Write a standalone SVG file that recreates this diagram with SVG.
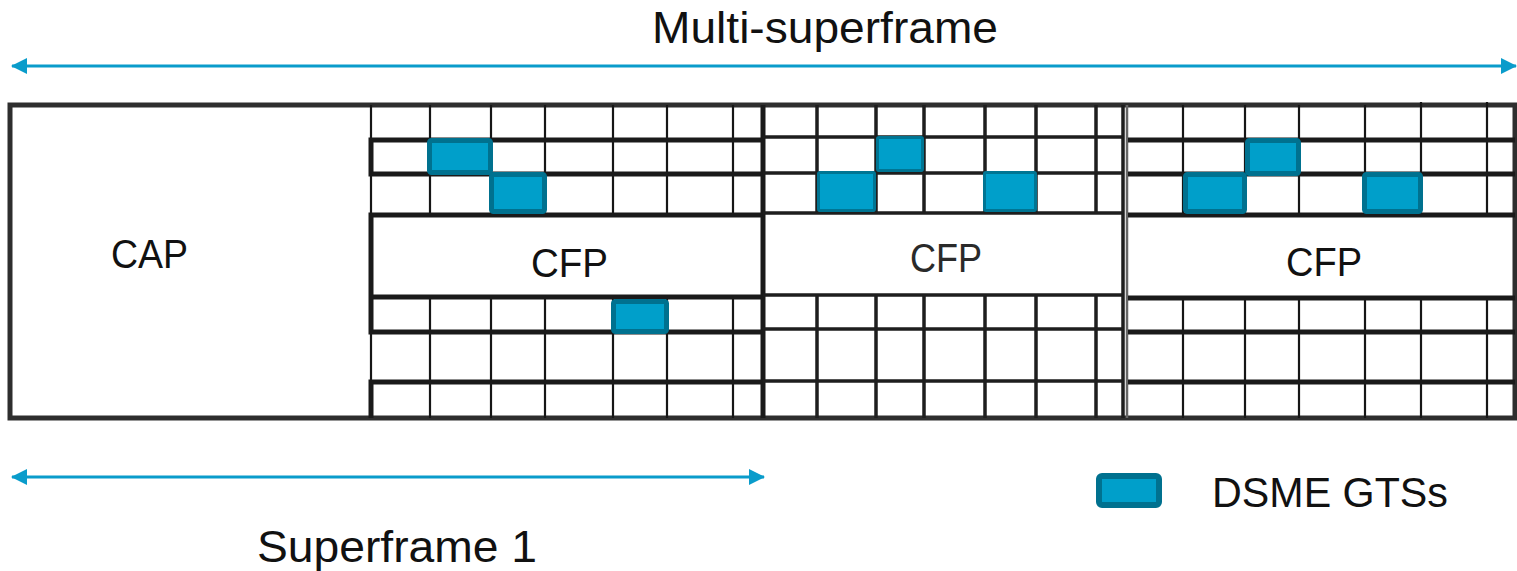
<svg xmlns="http://www.w3.org/2000/svg" width="1517" height="571" viewBox="0 0 1517 571">
  <defs>
    <style>
      .lbl { font-family: "Liberation Sans", Arial, sans-serif; fill: #111; }
      .thin { stroke: #161616; stroke-width: 2.2; fill: none; }
      .thick { stroke: #1a1a1a; stroke-width: 5; fill: none; }
      .mid { stroke: #1e1e1e; stroke-width: 3.5; fill: none; }
      .frame { stroke: #2e2e2e; stroke-width: 5; fill: #fff; }
      .gts { fill: #009fca; stroke: #00718f; stroke-width: 5; }
      .gts2 { fill: #009fca; stroke: #007593; stroke-width: 3; }
      .arrow { stroke: #0a9ccb; stroke-width: 3; fill: none; }
    </style>
    <marker id="ah" viewBox="0 0 16 16" refX="15" refY="8" markerWidth="16" markerHeight="16" markerUnits="userSpaceOnUse" orient="auto-start-reverse">
      <path d="M0,0 L16,8 L0,16 Z" fill="#0a9ccb"/>
    </marker>
  </defs>

  <!-- outer frame -->
  <rect id="frame" class="frame" x="10" y="105" width="1505" height="313"/>

  <!-- CAP region -->
  <g id="cap">
    <line class="thin" x1="371" y1="105" x2="371" y2="418"/>
    <text class="lbl" x="111" y="268" font-size="40" textLength="77" lengthAdjust="spacingAndGlyphs">CAP</text>
  </g>

  <!-- superframe 1 slot grid -->
  <g id="sf1-grid">
    <path class="thin" d="M430,105V215M491,105V215M545,105V215M613,105V215M667,105V215M733,105V215
                          M430,297V418M491,297V418M545,297V418M613,297V418M667,297V418M733,297V418"/>
    <path class="thick" d="M371,140H763M371,174H763M371,215H763M371,297H763M371,332H763M371,382H763
                           M371,137.5V176.5M371,212.5V334.5M371,379.5V418"/>
    <line class="thick" x1="763" y1="105" x2="763" y2="418"/>
  </g>
  <g id="sf1-cfp">
    <text class="lbl" x="531" y="277" font-size="41" textLength="77" lengthAdjust="spacingAndGlyphs">CFP</text>
  </g>
  <g id="sf1-gts">
    <rect class="gts" x="429.5" y="140.5" width="61" height="32" rx="2"/>
    <rect class="gts" x="491.5" y="174.5" width="53" height="37" rx="2"/>
    <rect class="gts" x="613.5" y="301.5" width="53" height="30" rx="2"/>
  </g>

  <!-- superframe 2 slot grid -->
  <g id="sf2-grid">
    <path class="mid" d="M817,105V213M876,105V213M924,105V213M985,105V213M1036,105V213M1096,105V213
                         M817,295V418M876,295V418M924,295V418M985,295V418M1036,295V418M1096,295V418" stroke-width="3"/>
    <path class="mid" d="M763,137H1123M763,173H1123M763,213H1123M763,295H1123M763,329H1123M763,381H1123"/>
    <line class="mid" x1="1123" y1="105" x2="1123" y2="418" stroke-width="4.5"/>
  </g>
  <g id="sf2-cfp">
    <text class="lbl" x="910" y="272" font-size="40" textLength="72" lengthAdjust="spacingAndGlyphs" style="fill:#2a2a2a">CFP</text>
  </g>
  <g id="sf2-gts">
    <rect class="gts2" x="877.5" y="137.5" width="45" height="33" rx="1.5"/>
    <rect class="gts2" x="818.5" y="172.5" width="56" height="38" rx="1.5"/>
    <rect class="gts2" x="984.5" y="172.5" width="51" height="38" rx="1.5"/>
  </g>

  <!-- superframe 3 slot grid -->
  <g id="sf3-grid">
    <line x1="1127" y1="105" x2="1127" y2="418" stroke="#666" stroke-width="2.5"/>
    <path class="thin" d="M1183,105V215M1245,105V215M1299,105V215M1365,105V215M1421,102V215M1487,102V215
                          M1183,298V418M1245,298V418M1299,298V418M1365,298V418M1421,298V418M1487,298V418"/>
    <path class="thick" d="M1128,140H1515M1128,174H1515M1128,215H1515M1128,298H1515M1128,332H1515M1128,382H1515"/>
  </g>
  <g id="sf3-cfp">
    <text class="lbl" x="1286" y="276" font-size="41" textLength="76" lengthAdjust="spacingAndGlyphs">CFP</text>
  </g>
  <g id="sf3-gts">
    <rect class="gts" x="1247.5" y="140.5" width="51" height="33" rx="2"/>
    <rect class="gts" x="1185.5" y="174.5" width="59" height="37" rx="2"/>
    <rect class="gts" x="1364.5" y="174.5" width="56" height="37" rx="2"/>
  </g>

  <!-- span arrows -->
  <g id="connectors">
    <line class="arrow" x1="12" y1="66" x2="1516" y2="66" marker-start="url(#ah)" marker-end="url(#ah)"/>
    <line class="arrow" x1="12" y1="477" x2="764" y2="477" marker-start="url(#ah)" marker-end="url(#ah)"/>
  </g>

  <!-- labels -->
  <g id="multi-superframe-label">
    <text class="lbl" x="652" y="43" font-size="44" textLength="346" lengthAdjust="spacingAndGlyphs">Multi-superframe</text>
  </g>
  <g id="superframe1-label">
    <text class="lbl" x="257" y="562" font-size="44" textLength="280" lengthAdjust="spacingAndGlyphs">Superframe 1</text>
  </g>

  <!-- legend -->
  <g id="legend">
    <rect x="1099" y="476" width="60" height="29" rx="3" fill="#009fca" stroke="#00718f" stroke-width="6"/>
    <text class="lbl" x="1212" y="507" font-size="42" textLength="236" lengthAdjust="spacingAndGlyphs">DSME GTSs</text>
  </g>
</svg>
